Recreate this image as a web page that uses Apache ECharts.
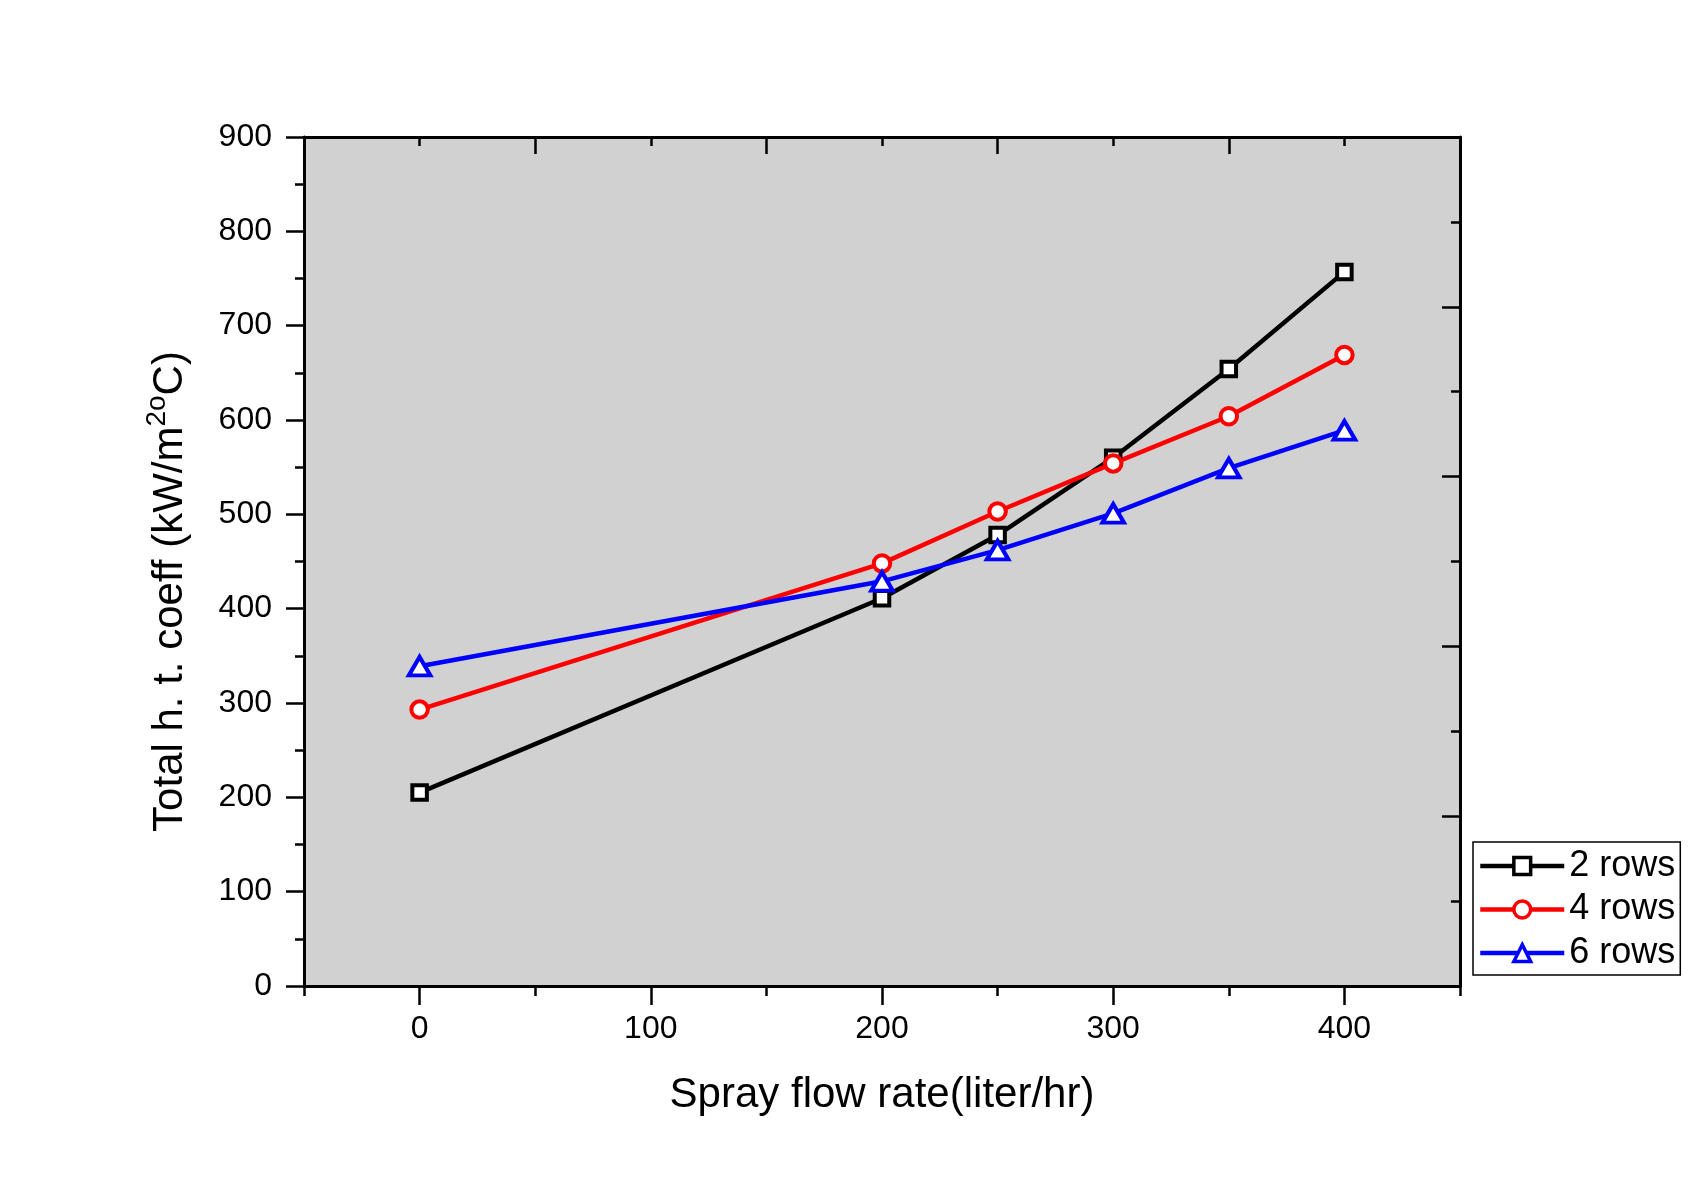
<!DOCTYPE html>
<html><head><meta charset="utf-8">
<script src="https://cdn.jsdelivr.net/npm/echarts@6/dist/echarts.min.js"></script>
<style>html,body{margin:0;padding:0;background:#fff}#c{width:1695px;height:1183px}</style>
</head><body><div id="c"></div>
<script>
// ---- data ----
const xValues = [0, 200, 250, 300, 350, 400];
const rows2 = [205, 411, 478, 560, 654, 757];
const rows4 = [293, 448, 503, 554, 604, 669];
const rows6 = [339, 429, 462, 501, 549, 589];
const seriesNames = ['2 rows', '4 rows', '6 rows'];
const xTickValues = [0, 100, 200, 300, 400];
const xAxisTitle = 'Spray flow rate(liter/hr)';
const yAxisTitle = 'Total h. t. coeff (kW/m{sup|2o}C)';

const FONT = 'Liberation Sans, Arial, sans-serif';
const chart = echarts.init(document.getElementById('c'), null, {renderer: 'canvas'});
const pairs = arr => xValues.map((x, i) => [x, arr[i]]);

const mk = (name, arr, color, symbol, size) => ({
  name, type: 'line', data: pairs(arr), xAxisIndex: 0, yAxisIndex: 0,
  symbol, symbolSize: size, showSymbol: true,
  lineStyle: {color, width: 4.5},
  itemStyle: {color: '#fff', borderColor: color, borderWidth: 4},
  emphasis: {disabled: true}, z: 3
});

chart.setOption({
  animation: false,
  backgroundColor: '#fff',
  grid: {left: 304, right: 235, top: 137, bottom: 197, show: true, backgroundColor: '#d1d1d1', borderWidth: 0},
  legend: {
    orient: 'vertical', left: 1473, top: 842,
    padding: [6, 5, 4, 5], itemGap: 7.5, itemWidth: 84, itemHeight: 21,
    backgroundColor: '#fff', borderColor: '#000', borderWidth: 1.5, borderRadius: 0,
    lineStyle: {width: 4.5},
    itemStyle: {borderWidth: 3.5},
    textStyle: {fontFamily: FONT, fontSize: 36, color: '#000'},
    data: seriesNames, selectedMode: false
  },
  xAxis: [
    { // main bottom axis
      type: 'value', position: 'bottom', min: -50, max: 450, interval: 50,
      axisLine: {show: true, onZero: false, lineStyle: {color: '#000', width: 3}},
      axisTick: {show: true, inside: false, length: 19, customValues: xTickValues, lineStyle: {color: '#000', width: 2.5}},
      axisLabel: {show: true, customValues: xTickValues, margin: 27, fontFamily: FONT, fontSize: 32, color: '#000'},
      splitLine: {show: false},
      name: xAxisTitle, nameLocation: 'middle', nameGap: 88,
      nameTextStyle: {fontFamily: FONT, fontSize: 42, color: '#000'}
    },
    { // bottom minor ticks
      type: 'value', position: 'bottom', min: -50, max: 450, interval: 50,
      axisLine: {show: false, onZero: false},
      axisTick: {show: true, inside: false, length: 10, lineStyle: {color: '#000', width: 2.5}},
      axisLabel: {show: false}, splitLine: {show: false}
    },
    { // top mirror axis
      type: 'value', position: 'top', min: -50, max: 450, interval: 100,
      axisLine: {show: true, onZero: false, lineStyle: {color: '#000', width: 3}},
      axisTick: {show: true, inside: true, length: 17, lineStyle: {color: '#000', width: 2.5}},
      minorTick: {show: true, splitNumber: 2, length: 9, lineStyle: {color: '#000', width: 2.5}},
      axisLabel: {show: false}, splitLine: {show: false}
    }
  ],
  yAxis: [
    {
      type: 'value', position: 'left', min: 0, max: 900, interval: 100,
      axisLine: {show: true, onZero: false, lineStyle: {color: '#000', width: 3}},
      axisTick: {show: true, inside: false, length: 18, lineStyle: {color: '#000', width: 2.5}},
      minorTick: {show: true, splitNumber: 2, length: 9, lineStyle: {color: '#000', width: 2.5}},
      axisLabel: {margin: 32, fontFamily: FONT, fontSize: 32, color: '#000'},
      splitLine: {show: false},
      name: yAxisTitle, nameLocation: 'middle', nameRotate: 90, nameGap: 107,
      nameTextStyle: {
        fontFamily: FONT, fontSize: 42, color: '#000', padding: [0, 60, 0, 0],
        rich: {sup: {fontFamily: FONT, fontSize: 28, color: '#000', verticalAlign: 'top', padding: [0, 0, 26, 0]}}
      }
    },
    { // right mirror axis
      type: 'value', position: 'right', min: 0, max: 5, interval: 1,
      axisLine: {show: true, onZero: false, lineStyle: {color: '#000', width: 3}},
      axisTick: {show: true, inside: true, length: 18, lineStyle: {color: '#000', width: 2.5}},
      minorTick: {show: true, splitNumber: 2, length: 9, lineStyle: {color: '#000', width: 2.5}},
      axisLabel: {show: false}, splitLine: {show: false}
    }
  ],
  series: [
    mk(seriesNames[0], rows2, '#000000', 'rect', 14.5),
    mk(seriesNames[1], rows4, '#ff0000', 'circle', 16.5),
    mk(seriesNames[2], rows6, '#0000ff', 'triangle', [21.5, 18.5])
  ]
});
</script></body></html>
